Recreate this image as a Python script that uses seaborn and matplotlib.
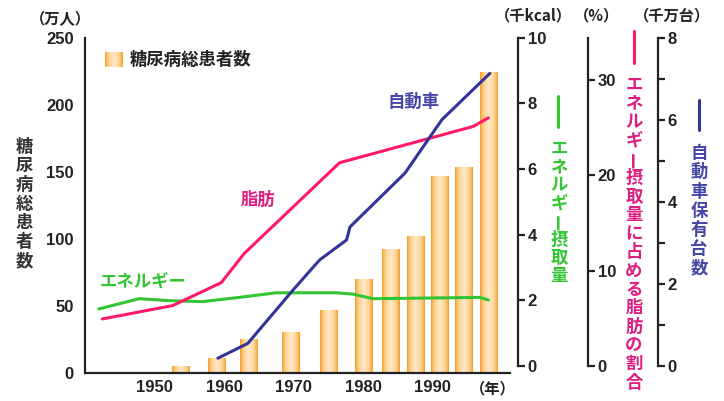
import numpy as np
import matplotlib
matplotlib.use("Agg")
import matplotlib.pyplot as plt
from matplotlib.colors import LinearSegmentedColormap
from matplotlib.lines import Line2D
import seaborn as sns

sns.set_style("white")
plt.rcParams['font.family'] = ['Liberation Sans', 'Noto Sans CJK JP', 'DejaVu Sans']

# diabetes patients (万人)
bar_years = [1953.7, 1958.9, 1963.6, 1969.6, 1975.0, 1980.0, 1984.0, 1987.5, 1991.0, 1994.5, 1998.1]
patients = [5, 11, 25, 30, 47, 70, 92, 102, 147, 153, 224]

# energy intake (千kcal)
energy_years = [1942.0, 1947.8, 1952.2, 1956.9, 1962.2, 1967.5, 1976.1, 1978.5, 1981.4, 1996.8, 1998.0]
energy = [1.74, 2.05, 1.99, 1.96, 2.09, 2.23, 2.23, 2.19, 2.05, 2.09, 2.01]

# fat share of energy (%)
fat_years = [1942.5, 1952.6, 1959.6, 1962.9, 1976.6, 1995.8, 1998.0]
fat_pct = [4.93, 6.33, 8.74, 11.8, 21.3, 25.1, 26.0]

# cars owned (千万台)
car_years = [1959.1, 1963.4, 1969.9, 1973.7, 1977.6, 1978.1, 1986.0, 1991.3, 1998.2]
cars = [0.19, 0.55, 1.85, 2.58, 3.07, 3.39, 4.70, 6.0, 7.13]

x_ticks = [1950, 1960, 1970, 1980, 1990]
XLIM = (1940.0, 2001.1)

GREEN = '#33c533'
PINK = '#ff1a66'
PINK_TXT = '#dc1f80'
BLUE = '#333399'
BLUE_TXT = '#4646a8'
INK = '#222222'
CJK = 'Noto Sans CJK JP'

W, H = 724, 401
fig = plt.figure(figsize=(W / 100, H / 100), dpi=100)


def fx(x):
    return x / W


def fy(y):
    return 1 - y / H


bar_cmap = LinearSegmentedColormap.from_list(
    'barg', [(0.0, '#ffe9c9'), (0.55, '#fdd597'), (0.85, '#fbb654'), (1.0, '#f39a1c')])
grad = np.abs(np.linspace(-1, 1, 64))[None, :]

# main axis with bars
ax = fig.add_axes([fx(85), fy(373), 425 / W, 335 / H])
width = 2.5 / np.min(np.diff(bar_years))
sns.barplot(x=bar_years, y=patients, native_scale=True, orient='x', width=width,
            color='#fcc777', edgecolor='none', ax=ax)
for p in list(ax.patches):
    bb = p.get_bbox()
    ax.imshow(grad, extent=[bb.x0, bb.x1, bb.y0, bb.y1], aspect='auto', cmap=bar_cmap,
              vmin=0, vmax=1, clip_path=p, zorder=p.get_zorder() + 0.1, interpolation='bilinear')
ax.set_xlim(*XLIM)
ax.set_ylim(0, 250)
ax.set_axisbelow(True)
ax.set_xticks(x_ticks)
ax.set_xticklabels([str(t) for t in x_ticks])
ax.set_xticks([XLIM[1]], minor=True)
ax.set_yticks(range(0, 251, 50))
ax.set_xlabel('')
ax.set_ylabel('')
for s in ['top', 'right']:
    ax.spines[s].set_visible(False)
for s in ['left', 'bottom']:
    ax.spines[s].set_linewidth(1.6)
    ax.spines[s].set_color(INK)
ax.tick_params(axis='y', direction='in', length=5, width=1.6, pad=8, labelsize=12, colors=INK)
ax.tick_params(axis='x', which='both', direction='in', length=5, width=1.6, pad=5, labelsize=12, colors=INK)
for lab in ax.get_xticklabels() + ax.get_yticklabels():
    lab.set_fontweight('bold')
ax.patch.set_alpha(0)


def right_axis(frac, ylim, ticks, minor=None):
    a = fig.add_axes([fx(85), fy(366), 425 / W, (366 - 37.7) / H])
    a.patch.set_alpha(0)
    a.set_xlim(*XLIM)
    a.set_ylim(*ylim)
    for s in ['top', 'left', 'bottom']:
        a.spines[s].set_visible(False)
    a.spines['right'].set_position(('axes', frac))
    a.spines['right'].set_linewidth(1.6)
    a.spines['right'].set_color(INK)
    a.set_xticks([])
    a.yaxis.tick_right()
    a.set_yticks(ticks)
    if minor is not None:
        a.set_yticks(minor, minor=True)
    a.tick_params(axis='y', which='both', direction='out', length=5, width=1.6, pad=2,
                  labelsize=12, colors=INK)
    for lab in a.get_yticklabels():
        lab.set_fontweight('bold')
    return a


ax_e = right_axis((518 - 85) / 425, (0, 10), [0, 2, 4, 6, 8, 10])
sns.lineplot(x=energy_years, y=energy, ax=ax_e, color=GREEN, lw=2.2, sort=False)

ax_f = right_axis((588 - 85) / 425, (0, 34.4), [0, 10, 20, 30])
sns.lineplot(x=fat_years, y=fat_pct, ax=ax_f, color=PINK, lw=2.2, sort=False)

ax_c = right_axis((658 - 85) / 425, (0, 8), [0, 2, 4, 6, 8], minor=[1, 3, 5, 7])
sns.lineplot(x=car_years, y=cars, ax=ax_c, color=BLUE, lw=2.2, sort=False)

for a in (ax_e, ax_f, ax_c):
    a.set_xlabel('')
    a.set_ylabel('')
    a.set_xlim(*XLIM)

# legend swatch for bars
sw = fig.add_axes([fx(105), fy(67), 18 / W, 15 / H])
sw.imshow(grad, aspect='auto', cmap=bar_cmap, vmin=0, vmax=1, interpolation='bilinear')
sw.axis('off')
fig.text(fx(130), fy(60), '糖尿病総患者数', family=CJK, fontsize=12.5, fontweight='bold',
         color=INK, ha='left', va='center')

# unit headers
hdr = dict(family=CJK, fontsize=11, fontweight='bold', color=INK, ha='center', va='center')
fig.text(fx(60), fy(19), '（万人）', **hdr)
fig.text(fx(533), fy(15), '（千kcal）', **hdr)
fig.text(fx(596), fy(15), '（%）', **hdr)
fig.text(fx(672), fy(15), '（千万台）', **hdr)
fig.text(fx(493), fy(388), '（年）', **hdr)

# in-plot series labels
fig.text(fx(143), fy(282), 'エネルギー', family=CJK, fontsize=12.5, fontweight='bold',
         color=GREEN, ha='center', va='center')
fig.text(fx(258), fy(200), '脂肪', family=CJK, fontsize=12.5, fontweight='bold',
         color=PINK_TXT, ha='center', va='center')
fig.text(fx(414), fy(102), '自動車', family=CJK, fontsize=12.5, fontweight='bold',
         color=BLUE_TXT, ha='center', va='center')


def vtext(s, x, y0, step, color, size=12.5):
    for i, ch in enumerate(s):
        rot = 90 if ch == 'ー' else 0
        fig.text(fx(x), fy(y0 + i * step), ch, family=CJK, fontsize=size, fontweight='bold',
                 color=color, ha='center', va='center', rotation=rot)


vtext('糖尿病総患者数', 24, 147.5, 18.9, '#333333', 12.5)
vtext('エネルギー摂取量', 559, 149, 18.1, GREEN)
vtext('エネルギー摂取量に占める脂肪の割合', 634, 85, 18.6, PINK_TXT)
vtext('自動車保有台数', 699, 153, 19.3, BLUE_TXT)

# short colour keys above the vertical labels
for x, y0, y1, c in [(558, 96, 127, GREEN), (634, 31, 63, PINK), (699, 100, 130, BLUE)]:
    fig.add_artist(Line2D([fx(x), fx(x)], [fy(y0), fy(y1)], color=c, lw=2.2,
                          transform=fig.transFigure))

fig.savefig('out.png', dpi=100)
